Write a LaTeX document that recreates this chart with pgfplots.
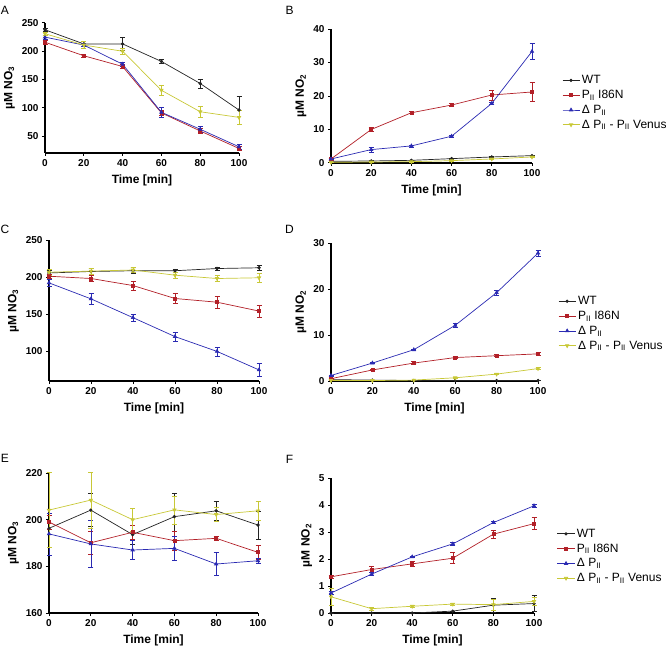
\documentclass[border=0pt]{standalone}
\usepackage{fontspec}
\setmainfont{Liberation Sans}
\usepackage{pgfplots}
\usepackage{pgfplotstable}
\pgfplotsset{compat=1.18}

\definecolor{cwt}{RGB}{35,35,35}
\definecolor{cred}{RGB}{178,32,40}
\definecolor{cblue}{RGB}{42,42,178}
\definecolor{cyel}{RGB}{200,200,55}

% t, WT, P_II I86N, Delta P_II, Delta P_II - P_II Venus (value, error)
\pgfplotstableread{
t   wt    wte  rd    rde  bl    ble  yl    yle
0   238   2    216   3    225   3    231   3
20  213   4    192   2    211   3    211   6
40  213   11   173   4    177   3    200   5
60  182   4    91    5    92    8    131   9
80  143   8    59    4    62    5    93    10
100 96    25   28    3    31    4    83    12
}\tabA
\pgfplotstableread{
t   wt    wte  rd    rde  bl    ble  yl    yle
0   0.5   0.2  1.2   0.3  1.2   0.2  0.2   0.1
20  0.6   0.1  10.0  0.6  4.0   0.8  0.3   0.1
40  0.8   0.1  15.0  0.3  5.1   0.3  0.4   0.1
60  1.3   0.1  17.3  0.5  8.0   0.3  0.7   0.1
80  1.8   0.2  20.3  1.5  17.8  0.3  1.2   0.1
100 2.2   0.2  21.2  2.8  33.3  2.3  1.8   0.2
}\tabB
\pgfplotstableread{
t   wt    wte  rd    rde  bl    ble  yl    yle
0   206   4    201.6 3    192.6 5    207   4
20  208   4    198.5 4    171   8    208.5 4
40  209   4    189   6    145.6 5    210   3
60  209   2    171.5 7    120   6    203   4
80  212   2    166.5 8    100   6    198.5 4
100 213   3    154.5 8    75    9    199.5 6
}\tabC
\pgfplotstableread{
t   wt    wte  rd    rde  bl    ble  yl    yle
0   0.3   0.1  0.5   0.1  1.2   0.1  0.1   0.05
20  0.2   0.05 2.4   0.1  3.9   0.1  0.1   0.05
40  0.1   0.05 3.9   0.3  6.8   0.2  0.2   0.05
60  0.1   0.05 5.1   0.2  12.1  0.4  0.7   0.1
80  0.1   0.05 5.5   0.2  19.2  0.5  1.5   0.1
100 0.1   0.05 5.9   0.3  27.8  0.6  2.7   0.2
}\tabD
\pgfplotstableread{
t   wt    wte  rd    rde  bl    ble  yl    yle
0   196.3 8    199   3    193.9 9    204.1 16
20  204.1 7    190.1 5    189.6 10   208.4 12
40  193.6 4    194.6 3    187   4    200   5
60  201.3 10   191   4    187.7 5    204.2 6
80  203.8 4    192   1    181   5    202.2 3
100 197.7 6    186   3    182.4 1    203.8 4
}\tabE
\pgfplotstableread{
t   wt    wte  rd    rde  bl    ble  yl    yle
0   0.0   0.0  1.34  0.05 0.74  0.05 0.60  0.30
20  0.0   0.0  1.61  0.12 1.44  0.05 0.16  0.05
40  0.0   0.0  1.82  0.10 2.08  0.03 0.25  0.03
60  0.07  0.0  2.03  0.20 2.56  0.05 0.33  0.03
80  0.29  0.25 2.92  0.15 3.35  0.03 0.31  0.20
100 0.35  0.30 3.31  0.22 3.97  0.07 0.43  0.15
}\tabF

\pgfplotsset{
  panel/.style={
    scale only axis,
    axis lines=left,
    axis line style={-, line width=1.1pt},
    tick align=outside,
    major tick length=3pt,
    tick style={line width=1pt, black},
    xmin=0, xmax=100, xtick={0,20,...,100},
    ticklabel style={font=\bfseries\fontsize{10}{12}\selectfont},
    /pgf/number format/assume math mode=true,
    label style={font=\bfseries\fontsize{12}{14}\selectfont},
    xlabel={Time [min]},
    xlabel style={yshift=-1pt},
    clip=false,
    every axis plot/.append style={line width=0.7pt},
    error bars/y dir=both, error bars/y explicit,
    error bars/error bar style={line width=0.6pt},
    error bars/error mark options={rotate=90, mark size=2.5pt, line width=0.6pt},
  },
  wt/.style={color=cwt, mark=*, mark size=1.3pt},
  rd/.style={color=cred, mark=square*, mark size=1.5pt},
  bl/.style={color=cblue, mark=triangle*, mark size=1.9pt},
  yl/.style={color=cyel, mark=triangle*, mark size=1.9pt, mark options={rotate=180}},
  leg/.style={legend style={draw=none, fill=none, anchor=west, inner sep=0pt,
    font=\fontsize{12}{14}\selectfont, cells={anchor=west}, row sep=1pt}},
}

\newcommand{\fourplots}[1]{%
  \addplot[wt] table[x=t, y=wt, y error=wte] {#1};
  \addplot[rd] table[x=t, y=rd, y error=rde] {#1};
  \addplot[bl] table[x=t, y=bl, y error=ble] {#1};
  \addplot[yl] table[x=t, y=yl, y error=yle] {#1};
}
\newcommand{\fourlegend}{\legend{WT, P\textsubscript{II} I86N, Δ P\textsubscript{II}, Δ P\textsubscript{II} - P\textsubscript{II} Venus}}

\begin{document}
\begin{tikzpicture}
\useasboundingbox (0pt,0pt) rectangle (666pt,649pt);

% A
\begin{axis}[panel, at={(45pt,496pt)}, width=194pt, height=130pt,
  ymin=20, ymax=250, ytick={50,100,...,250}, ylabel={µM NO\textsubscript{3}}]
\fourplots{\tabA}
\end{axis}

% B
\begin{axis}[panel, leg, at={(331pt,486pt)}, width=201pt, height=134pt,
  ymin=0, ymax=40, ytick={0,10,...,40}, ylabel={µM NO\textsubscript{2}},
  legend style={at={(1.149,0.451)}}]
\fourplots{\tabB}
\fourlegend
\end{axis}

% C
\begin{axis}[panel, at={(49pt,268pt)}, width=210pt, height=140.6pt,
  ymin=60, ymax=250, ytick={100,150,...,250}, ylabel={µM NO\textsubscript{3}}]
\fourplots{\tabC}
\end{axis}

% D
\begin{axis}[panel, leg, at={(331pt,268pt)}, width=207pt, height=138pt,
  ymin=0, ymax=30, ytick={0,10,...,30}, ylabel={µM NO\textsubscript{2}},
  legend style={at={(1.097,0.417)}}]
\fourplots{\tabD}
\fourlegend
\end{axis}

% E
\begin{axis}[panel, at={(49pt,36pt)}, width=209pt, height=140pt,
  ymin=160, ymax=220, ytick={160,180,...,220}, ylabel={µM NO\textsubscript{3}}]
\fourplots{\tabE}
\end{axis}

% F
\begin{axis}[panel, leg, at={(331pt,36pt)}, width=203pt, height=135pt,
  ymin=0, ymax=5, ytick={0,1,...,5}, ylabel={µM NO\textsubscript{2}},
  legend style={at={(1.113,0.422)}}]
\fourplots{\tabF}
\fourlegend
\end{axis}

\begin{scope}[every node/.style={font=\fontsize{12}{14}\selectfont}]
\node at (5pt,639pt) {A};
\node at (289.5pt,639pt) {B};
\node at (5pt,419.5pt) {C};
\node at (289.5pt,419.5pt) {D};
\node at (5pt,190.5pt) {E};
\node at (289.5pt,189.5pt) {F};
\end{scope}
\end{tikzpicture}
\end{document}
